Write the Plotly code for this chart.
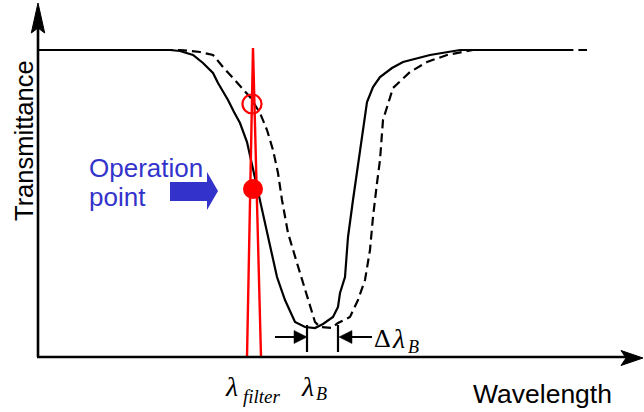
import plotly.graph_objects as go

# ---------------- data (wavelength in px-units, transmittance in px-units above baseline)
solid_wl = [38, 170, 180, 193, 203, 213, 218, 228, 234, 240, 247, 251, 254, 258, 263, 267, 272, 277,
            285, 295, 305, 315, 323, 333, 338, 340, 345, 348, 353, 360, 367, 373, 380, 392, 403, 430, 460, 568]
solid_T = [307, 307, 306, 302, 294, 284, 274, 257, 245, 234, 215, 197, 182, 164, 142, 124, 102, 80,
           57, 35, 30, 29, 33, 40, 50, 64, 80, 120, 157, 207, 255, 270, 280, 289, 295, 302, 307, 307]

dashed_wl = [38, 180, 200, 213, 223, 237, 250, 260, 267, 273, 278, 282, 288, 297, 307, 315, 320, 332,
             338, 350, 358, 365, 370, 373, 377, 380, 383, 387, 393, 410, 427, 447, 473, 587]
dashed_T = [307, 307, 305, 302, 290, 274, 260, 244, 227, 207, 184, 157, 124, 94, 60, 35, 30, 29,
            34, 40, 57, 77, 107, 140, 174, 197, 237, 250, 269, 285, 295, 302, 307, 307]

filter_wl = [247, 253, 261]
filter_T = [0, 309, 0]

op_open_wl, op_open_T = [252], [253]
op_fill_wl, op_fill_T = [253], [168]

lambda_filter = 253
lambda_B = 307
lambda_B_shift = 338

fig = go.Figure()

fig.add_trace(go.Scatter(x=solid_wl, y=solid_T, mode="lines",
                         line=dict(color="black", width=2.2), hoverinfo="skip"))
fig.add_trace(go.Scatter(x=dashed_wl, y=dashed_T, mode="lines",
                         line=dict(color="black", width=2.2, dash="9px,5px"), hoverinfo="skip"))
fig.add_trace(go.Scatter(x=filter_wl, y=filter_T, mode="lines",
                         line=dict(color="#ff0000", width=2.4), hoverinfo="skip"))
fig.add_trace(go.Scatter(x=op_open_wl, y=op_open_T, mode="markers",
                         marker=dict(symbol="circle-open", size=19, color="#ff0000",
                                     line=dict(width=2.2, color="#ff0000")), hoverinfo="skip"))
fig.add_trace(go.Scatter(x=op_fill_wl, y=op_fill_T, mode="markers",
                         marker=dict(symbol="circle", size=20, color="#ff0000"), hoverinfo="skip"))

shapes = []
# axes
shapes.append(dict(type="line", xref="x", yref="y", x0=38, y0=0, x1=38, y1=330,
                   line=dict(color="black", width=2.6)))
shapes.append(dict(type="line", xref="x", yref="y", x0=37, y0=0, x1=628, y1=0,
                   line=dict(color="black", width=2.6)))
shapes.append(dict(type="path", xref="x", yref="y",
                   path="M 38,354 L 31.3,324 L 38,329 L 44.7,324 Z",
                   fillcolor="black", line=dict(color="black", width=1)))
shapes.append(dict(type="path", xref="x", yref="y",
                   path="M 643,-1 L 621,6.5 L 626,-1 L 621,-8.5 Z",
                   fillcolor="black", line=dict(color="black", width=1)))
# blue arrow
shapes.append(dict(type="path", xref="x", yref="y",
                   path="M 170,175 L 207,175 L 207,185 L 218,166 L 207,147 L 207,156 L 170,156 Z",
                   fillcolor="#3333cc", line=dict(color="#3333cc", width=0)))
# delta lambda markers
for xv in (lambda_B, lambda_B_shift):
    shapes.append(dict(type="line", xref="x", yref="y", x0=xv, y0=5, x1=xv, y1=32,
                       line=dict(color="black", width=2.2)))
shapes.append(dict(type="line", xref="x", yref="y", x0=275, y0=20, x1=lambda_B - 10, y1=20,
                   line=dict(color="black", width=2)))
shapes.append(dict(type="path", xref="x", yref="y",
                   path=f"M {lambda_B},20 L {lambda_B-13},26.5 L {lambda_B-13},13.5 Z",
                   fillcolor="black", line=dict(color="black", width=0.5)))
shapes.append(dict(type="line", xref="x", yref="y", x0=lambda_B_shift + 10, y0=20, x1=372, y1=20,
                   line=dict(color="black", width=2)))
shapes.append(dict(type="path", xref="x", yref="y",
                   path=f"M {lambda_B_shift+1},20 L {lambda_B_shift+14},26.5 L {lambda_B_shift+14},13.5 Z",
                   fillcolor="black", line=dict(color="black", width=0.5)))

sans = "Liberation Sans, Arial, sans-serif"
serif = "Liberation Serif, Times New Roman, serif"

ann = []
ann.append(dict(x=24, y=216, text="Transmittance", textangle=-90, showarrow=False,
                font=dict(family=sans, size=25.5, color="black"), xanchor="center", yanchor="middle"))
ann.append(dict(x=87, y=189, text="Operation", showarrow=False,
                font=dict(family=sans, size=26, color="#3333cc"), xanchor="left", yanchor="middle"))
ann.append(dict(x=87, y=160, text="point", showarrow=False,
                font=dict(family=sans, size=26, color="#3333cc"), xanchor="left", yanchor="middle"))
ann.append(dict(x=542, y=-37, text="Wavelength", showarrow=False,
                font=dict(family=sans, size=26.5, color="black"), xanchor="center", yanchor="middle"))
# lambda_filter
ann.append(dict(x=231, y=-29, text="<i>λ</i>", showarrow=False,
                font=dict(family=serif, size=28, color="black"), xanchor="center", yanchor="middle"))
ann.append(dict(x=241, y=-39, text="<i>filter</i>", showarrow=False,
                font=dict(family=serif, size=19, color="black"), xanchor="left", yanchor="middle"))
# lambda_B
ann.append(dict(x=307, y=-29, text="<i>λ</i>", showarrow=False,
                font=dict(family=serif, size=28, color="black"), xanchor="center", yanchor="middle"))
ann.append(dict(x=314, y=-37, text="<i>B</i>", showarrow=False,
                font=dict(family=serif, size=18, color="black"), xanchor="left", yanchor="middle"))
# delta lambda_B
ann.append(dict(x=372, y=19, text="Δ", showarrow=False,
                font=dict(family=serif, size=26, color="black"), xanchor="left", yanchor="middle"))
ann.append(dict(x=398, y=19, text="<i>λ</i>", showarrow=False,
                font=dict(family=serif, size=28, color="black"), xanchor="center", yanchor="middle"))
ann.append(dict(x=406, y=10, text="<i>B</i>", showarrow=False,
                font=dict(family=serif, size=18, color="black"), xanchor="left", yanchor="middle"))

fig.update_layout(
    width=644, height=412, autosize=False,
    margin=dict(l=0, r=0, t=0, b=0, pad=0),
    paper_bgcolor="white", plot_bgcolor="white",
    showlegend=False,
    xaxis=dict(range=[0, 644], visible=False, fixedrange=True),
    yaxis=dict(range=[-55, 357], visible=False, fixedrange=True),
    shapes=shapes, annotations=ann,
)

fig.write_html("out.html", config={"displayModeBar": False},
               post_script="document.body.style.margin='0';document.body.style.overflow='hidden';")
